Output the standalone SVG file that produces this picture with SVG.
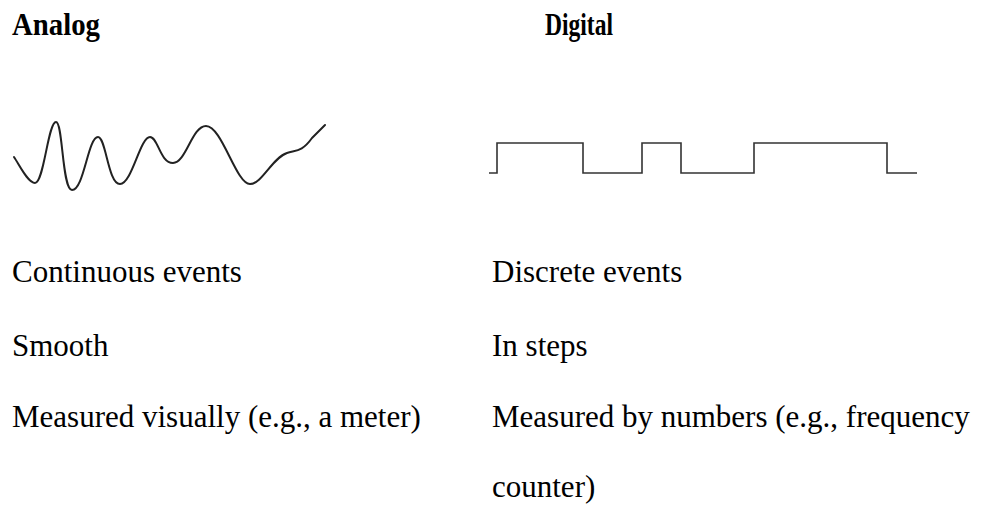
<svg xmlns="http://www.w3.org/2000/svg" width="989" height="508" viewBox="0 0 989 508">
<style>
.h{font-family:"Liberation Serif","Times New Roman",serif;font-weight:bold;font-size:32px;fill:#000}
.t{font-family:"Liberation Serif","Times New Roman",serif;font-size:31px;fill:#000}
.w{fill:none;stroke:#222;stroke-width:2;stroke-linejoin:round;stroke-linecap:round}
.d{fill:none;stroke:#333;stroke-width:1.6}
</style>
<rect width="989" height="508" fill="#fff"/>
<g id="analog">
<text class="h" x="12" y="35" textLength="88" lengthAdjust="spacingAndGlyphs">Analog</text>
<path id="analog-wave" class="w" d="M14,157 C20,166 28,183 35,183 C44,183 48,122 56,122 C63,122 62,190 72,190 C84,190 88,137 98,137 C106,137 108,184 120,184 C132,184 140,137 150,137 C158,137 160,163 173,163 C186,163 192,126 206,126 C222,126 236,184 250,184 C262,184 272,158 287,153 C296,150 302,152 312,138 L325,125"/>
<text class="t" x="12" y="282">Continuous events</text>
<text class="t" x="12" y="356">Smooth</text>
<text class="t" x="12" y="427">Measured visually (e.g., a meter)</text>
</g>
<g id="digital">
<text class="h" x="545" y="35" textLength="68" lengthAdjust="spacingAndGlyphs">Digital</text>
<path id="digital-wave" class="d" d="M489,173 H497 V143 H583 V173 H642 V143 H681 V173 H754 V143 H887 V173 H917"/>
<text class="t" x="492" y="282">Discrete events</text>
<text class="t" x="492" y="356">In steps</text>
<text class="t" x="492" y="427">Measured by numbers (e.g., frequency</text>
<text class="t" x="492" y="497">counter)</text>
</g>
</svg>
